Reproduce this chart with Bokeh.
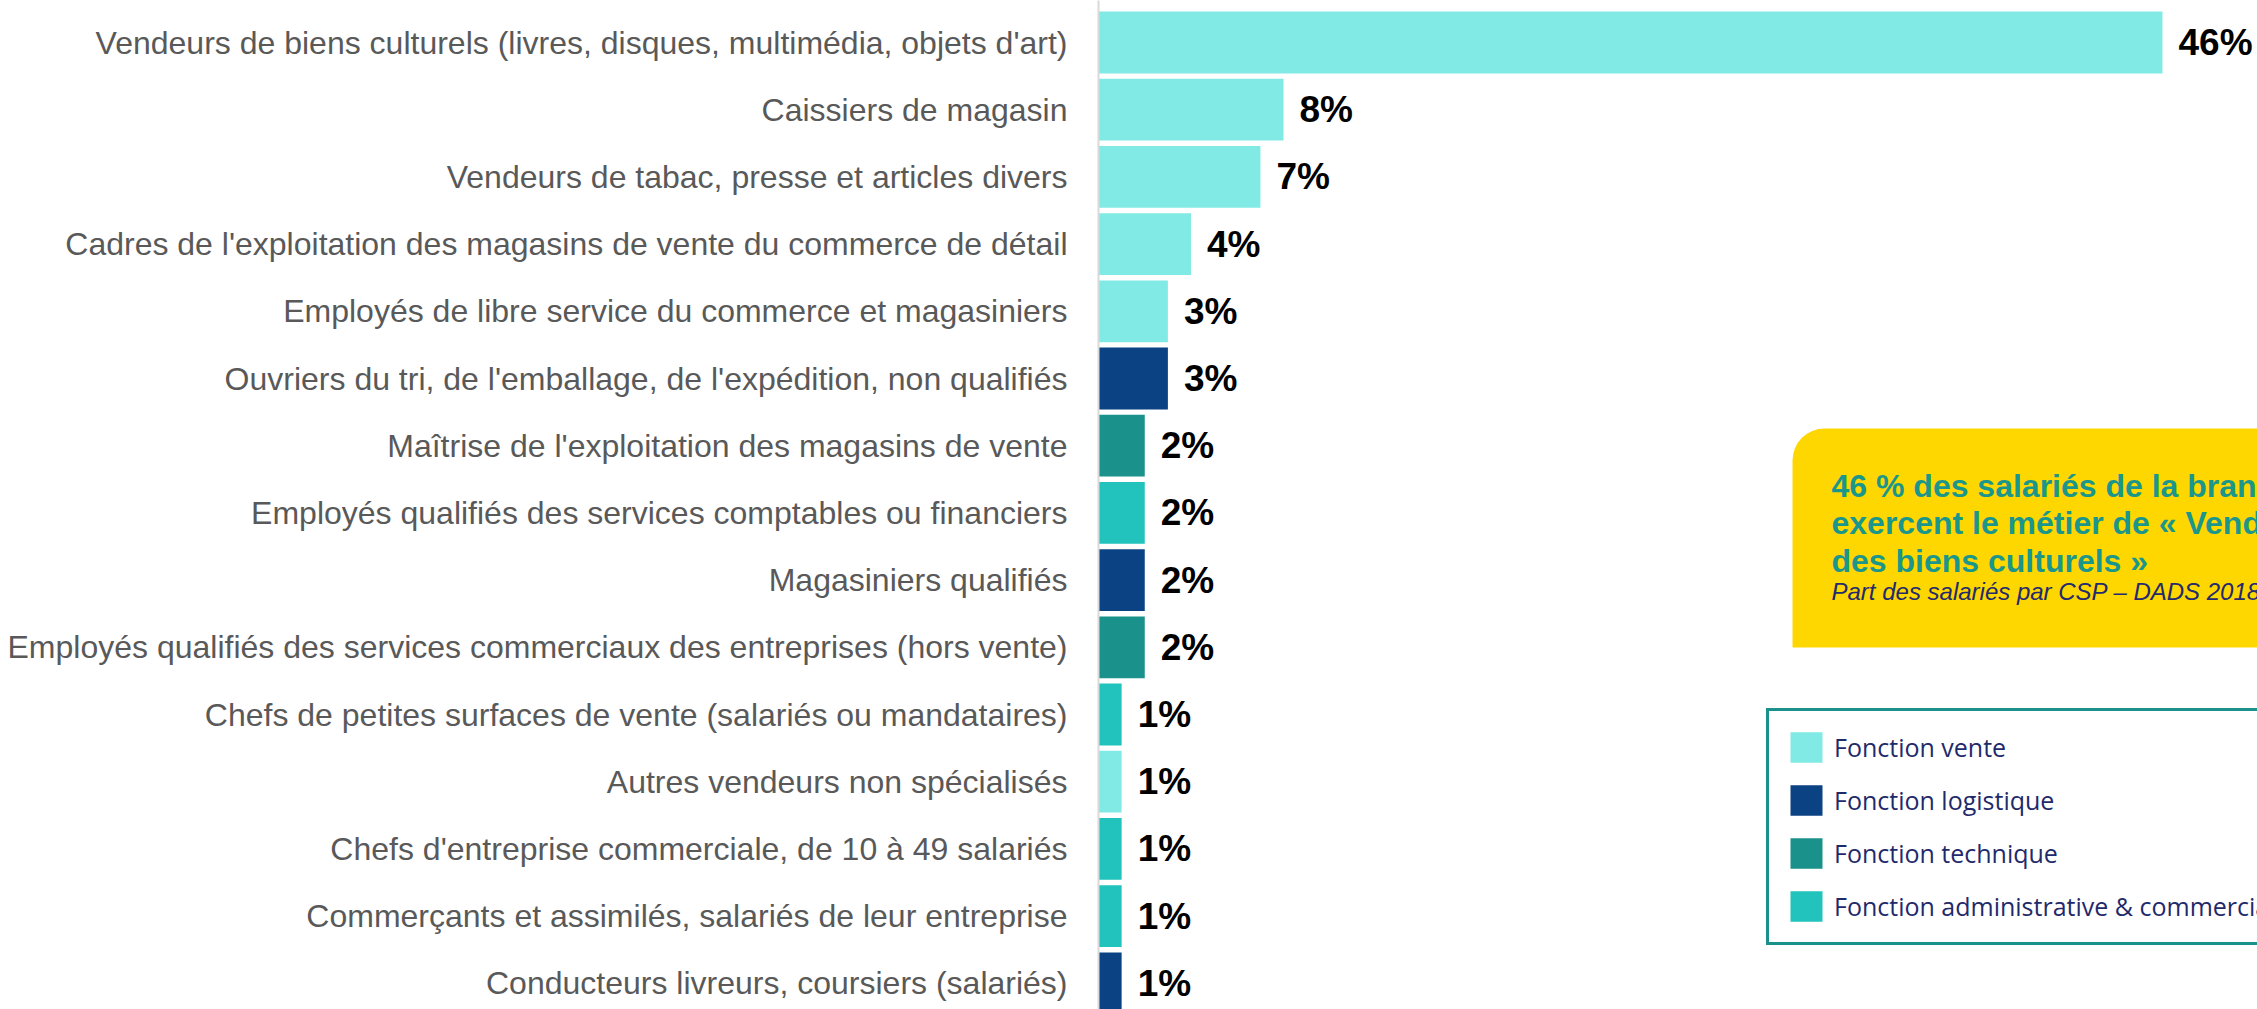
from bokeh.plotting import figure
from bokeh.models import (Range1d, FixedTicker, ColumnDataSource, BoxAnnotation,
                          Label, Legend, LegendItem)
from bokeh.core.properties import value
from bokeh.embed import file_html
from bokeh.resources import INLINE

# ---------------- data ----------------
categories = [
    "Vendeurs de biens culturels (livres, disques, multimédia, objets d'art)",
    "Caissiers de magasin",
    "Vendeurs de tabac, presse et articles divers",
    "Cadres de l'exploitation des magasins de vente du commerce de détail",
    "Employés de libre service du commerce et magasiniers",
    "Ouvriers du tri, de l'emballage, de l'expédition, non qualifiés",
    "Maîtrise de l'exploitation des magasins de vente",
    "Employés qualifiés des services comptables ou financiers",
    "Magasiniers qualifiés",
    "Employés qualifiés des services commerciaux des entreprises (hors vente)",
    "Chefs de petites surfaces de vente (salariés ou mandataires)",
    "Autres vendeurs non spécialisés",
    "Chefs d'entreprise commerciale, de 10 à 49 salariés",
    "Commerçants et assimilés, salariés de leur entreprise",
    "Conducteurs livreurs, coursiers (salariés)",
]
shares = [46, 8, 7, 4, 3, 3, 2, 2, 2, 2, 1, 1, 1, 1, 1]
functions = ["vente", "vente", "vente", "vente", "vente", "logistique", "technique",
             "admin", "logistique", "technique", "admin", "vente", "admin", "admin",
             "logistique"]
function_order = ["vente", "logistique", "technique", "admin"]
function_labels = ["Fonction vente", "Fonction logistique", "Fonction technique",
                   "Fonction administrative & commerciale"]
function_colors = ["#82EAE5", "#0B4283", "#1A918A", "#21C3BC"]
value_labels = [f"{v}%" for v in shares]

callout_lines = ["46 % des salariés de la branche",
                 "exercent le métier de « Vendeurs",
                 "des biens culturels »"]
callout_source = "Part des salariés par CSP – DADS 2018"

# ---------------- layout constants (figure pixels) ----------------
W, H = 2257, 1009
LEFT = 1098          # frame left edge
PX_PER_PCT = 23.13
ROW = 67.2
FIRST = 42.0         # centre of first row

def dx(px):
    return (px - LEFT) / PX_PER_PCT

def dy(py):
    return (py - FIRST) / ROW

x_end = (W - LEFT) / PX_PER_PCT
y_top = -FIRST / ROW
y_bottom = (H - FIRST) / ROW

color_map = dict(zip(function_order, function_colors))
idx = list(range(len(categories)))
src = ColumnDataSource(dict(
    idx=idx, share=shares, label=value_labels,
    color=[color_map[f] for f in functions],
))

p = figure(width=W, height=H, output_backend="svg", toolbar_location=None,
           x_range=Range1d(0, x_end), y_range=Range1d(y_bottom, y_top),
           min_border_left=LEFT, min_border_right=0, min_border_top=0,
           min_border_bottom=0, x_axis_location=None)
p.outline_line_color = None
p.grid.visible = False
p.background_fill_color = "white"
p.border_fill_color = "white"

bars = p.hbar(y="idx", left=0, right="share", height=0.92, source=src,
              fill_color="color", line_color=None)

p.text(x="share", y="idx", text="label", source=src, x_offset=16,
       text_baseline="middle", text_align="left",
       text_font=value("Liberation Sans"), text_font_style="bold",
       text_font_size="37px", text_color="black")

ax = p.yaxis[0]
ax.ticker = FixedTicker(ticks=idx)
ax.major_label_overrides = {i: c for i, c in zip(idx, categories)}
ax.major_label_text_font = "Liberation Sans"
ax.major_label_text_font_size = "32px"
ax.major_label_text_color = "#595959"
ax.major_label_standoff = 25
ax.major_tick_line_color = None
ax.minor_tick_line_color = None
ax.axis_line_color = "#D9D9D9"
ax.axis_line_width = 2

# callout box
box = BoxAnnotation(left=dx(1792), right=dx(2600), top=dy(428), bottom=dy(647),
                    fill_color="#FFD700", fill_alpha=1.0, line_color=None,
                    border_radius=dict(top_left=32, top_right=0,
                                       bottom_right=0, bottom_left=0))
p.add_layout(box)

for line, mid in zip(callout_lines, [485, 522, 560]):
    p.add_layout(Label(x=dx(1831), y=dy(mid), text=line,
                       text_font="Liberation Sans", text_font_style="bold",
                       text_font_size="32px", text_color="#1B968A",
                       text_baseline="middle"))
p.add_layout(Label(x=dx(1831), y=dy(591), text=callout_source,
                   text_font="Liberation Sans", text_font_style="italic",
                   text_font_size="24px", text_color="#232A6E",
                   text_baseline="middle"))

# legend
first_index = [functions.index(f) for f in function_order]
items = [LegendItem(label=lab, renderers=[bars], index=i)
         for lab, i in zip(function_labels, first_index)]
legend = Legend(items=items, location=(1766 - LEFT, H - 945),
                orientation="vertical",
                border_line_color="#1A918A", border_line_width=3,
                border_line_alpha=1.0,
                background_fill_color="white", background_fill_alpha=1.0,
                label_text_font="Open Sans", label_text_font_size="25px",
                label_text_color="#1F2A6B", label_standoff=8,
                glyph_width=40, glyph_height=38, label_height=38,
                spacing=15, padding=17, margin=0)
p.add_layout(legend)

open("out.html", "w").write(file_html(p, INLINE))
